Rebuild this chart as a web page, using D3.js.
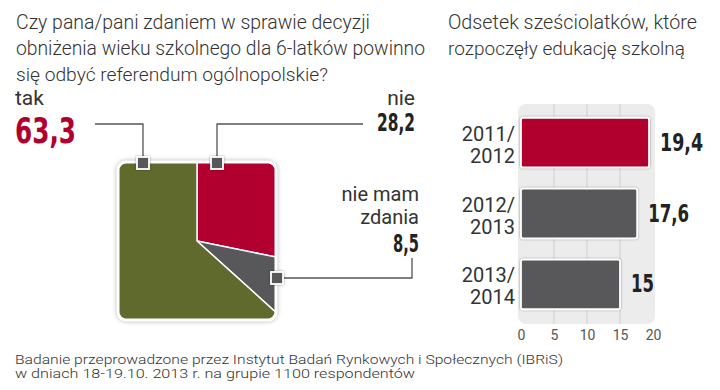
<!DOCTYPE html>
<html><head><meta charset="utf-8">
<script src="https://cdn.jsdelivr.net/npm/d3@7"></script>
<style>
body{margin:0;background:#fff;}
svg{display:block;}
.t{font-family:Roboto,"Open Sans",sans-serif;font-weight:300;fill:#333;}
.b{font-family:"DejaVu Sans Condensed","Liberation Sans Narrow",sans-serif;font-weight:bold;font-stretch:condensed;}
</style></head><body>
<script>
// ---- data ----
const pieCategories = ["nie", "nie mam zdania", "tak"];
const pieValues = [28.2, 8.5, 63.3];
const pieLabels = ["28,2", "8,5", "63,3"];
const barCategories = [["2011/", "2012"], ["2012/", "2013"], ["2013/", "2014"]];
const barValues = [19.4, 17.6, 15];
const barLabels = ["19,4", "17,6", "15"];
const xTicks = [0, 5, 10, 15, 20];
const titleLeft = ["Czy pana/pani zdaniem w sprawie decyzji", "obniżenia wieku szkolnego dla 6-latków powinno", "się odbyć referendum ogólnopolskie?"];
const titleRight = ["Odsetek sześciolatków, które", "rozpoczęły edukację szkolną"];
const footer = ["Badanie przeprowadzone przez  Instytut Badań Rynkowych i Społecznych (IBRiS)", "w dniach 18-19.10. 2013 r. na grupie 1100 respondentów"];

const RED = "#b1002f", GRAY = "#58585a", OLIVE = "#5f6a2c";
const pieColors = [RED, GRAY, OLIVE];

const W = 720, H = 390;
const svg = d3.select("body").append("svg").attr("width", W).attr("height", H);
const defs = svg.append("defs");
const sh = defs.append("filter").attr("id", "sh").attr("x", "-20%").attr("y", "-20%").attr("width", "140%").attr("height", "140%");
sh.append("feDropShadow").attr("dx", 0).attr("dy", 0).attr("stdDeviation", 2.5).attr("flood-color", "#000").attr("flood-opacity", 0.35);
const sh2 = defs.append("filter").attr("id", "sh2").attr("x", "-50%").attr("y", "-50%").attr("width", "200%").attr("height", "200%");
sh2.append("feDropShadow").attr("dx", 0).attr("dy", 0).attr("stdDeviation", 1.2).attr("flood-color", "#000").attr("flood-opacity", 0.4);

// fit a text to a target width: font size first, then textLength for the remainder
function fit(sel, target, base, maxSize) {
  const w = sel.node().getComputedTextLength();
  const fs = Math.min(maxSize, base * target / w);
  sel.attr("font-size", fs).attr("textLength", target).attr("lengthAdjust", "spacingAndGlyphs");
}

// ---- titles ----
titleLeft.forEach((s, i) => {
  const t = svg.append("text").attr("class", "t").attr("x", 16).attr("y", 29 + i * 26)
    .attr("font-size", 22).text(s);
  fit(t, [354, 409, 312][i], 22, 21.5);
});
titleRight.forEach((s, i) => {
  const t = svg.append("text").attr("class", "t").attr("x", 448).attr("y", 29 + i * 26)
    .attr("font-size", 22).text(s);
  fit(t, [249, 237][i], 22, 21.5);
});
footer.forEach((s, i) => {
  const t = svg.append("text").attr("class", "t").attr("x", 15).attr("y", 364 + i * 14)
    .attr("font-size", 14).attr("fill", "#444").style("font-weight", 300).text(s);
  fit(t, [548, 400][i], 14, 13);
});

// ---- square pie ----
const sq = {x: 118, y: 162, s: 158, r: 8};
const cx = sq.x + sq.s / 2, cy = sq.y + sq.s / 2;
defs.append("clipPath").attr("id", "sqclip").append("rect")
  .attr("x", sq.x).attr("y", sq.y).attr("width", sq.s).attr("height", sq.s).attr("rx", sq.r);
svg.append("rect").attr("x", sq.x - 1).attr("y", sq.y - 1).attr("width", sq.s + 2).attr("height", sq.s + 2)
  .attr("rx", sq.r + 1).attr("fill", "#fff").attr("filter", "url(#sh)");
const pie = d3.pie().sort(null).value(d => d)(pieValues);
const arc = d3.arc().innerRadius(0).outerRadius(sq.s);
svg.append("g").attr("clip-path", "url(#sqclip)")
  .append("g").attr("transform", `translate(${cx},${cy})`)
  .selectAll("path").data(pie).join("path")
  .attr("d", arc).attr("fill", (d, i) => pieColors[i]).attr("stroke", "#fff").attr("stroke-width", 1.5);
svg.append("rect").attr("x", sq.x).attr("y", sq.y).attr("width", sq.s).attr("height", sq.s)
  .attr("rx", sq.r).attr("fill", "none").attr("stroke", "#fff").attr("stroke-width", 3);

// leader lines
const lc = "#555";
const leaders = [
  [[95, 124], [143, 124], [143, 163]],
  [[363, 124], [217, 124], [217, 163]],
  [[412, 258], [412, 278], [277, 278]]
];
leaders.forEach(pts => {
  svg.append("path").attr("d", d3.line()(pts)).attr("fill", "none").attr("stroke", lc).attr("stroke-width", 1.3);
});
[[143, 163], [217, 163], [277, 278]].forEach(p => {
  svg.append("rect").attr("x", p[0] - 6).attr("y", p[1] - 6).attr("width", 12).attr("height", 12)
    .attr("fill", GRAY).attr("stroke", "#fff").attr("stroke-width", 1.8).attr("filter", "url(#sh2)");
});

// pie labels
function lbl(x, y, s, size, anchor) {
  return svg.append("text").attr("class", "t").attr("x", x).attr("y", y).attr("text-anchor", anchor)
    .attr("font-size", size).style("font-weight", 400).attr("fill", "#222").text(s);
}
function num(x, y, s, size, w, anchor, col) {
  return svg.append("text").attr("class", "b").attr("x", x).attr("y", y).attr("text-anchor", anchor)
    .attr("font-size", size).attr("fill", col).attr("textLength", w).attr("lengthAdjust", "spacingAndGlyphs").text(s);
}
lbl(15, 105, "tak", 21, "start");
num(15, 143, pieLabels[2], 36, 61, "start", RED);
lbl(415, 105, "nie", 21, "end");
num(415, 131, pieLabels[0], 25, 38, "end", "#222");
lbl(419, 201, "nie mam", 20, "end");
lbl(419, 224, "zdania", 20, "end");
num(419, 252, pieLabels[1], 25, 26, "end", "#222");

// ---- bar chart ----
const x = d3.scaleLinear().domain([0, 20]).range([521, 653]);
const y = d3.scaleBand().domain(d3.range(barValues.length)).range([105, 322]).paddingInner(0.3).paddingOuter(0.18);
svg.append("rect").attr("x", 518).attr("y", 104).attr("width", 137).attr("height", 220).attr("rx", 8).attr("fill", "#ececec");
svg.append("g").selectAll("line").data(xTicks.slice(1, 4)).join("line")
  .attr("x1", d => x(d)).attr("x2", d => x(d)).attr("y1", 104).attr("y2", 324)
  .attr("stroke", "#cfcfcf").attr("stroke-width", 1);
svg.append("g").selectAll("rect").data(barValues).join("rect")
  .attr("x", x(0)).attr("y", (d, i) => y(i)).attr("width", d => x(d) - x(0)).attr("height", y.bandwidth())
  .attr("rx", 2).attr("fill", (d, i) => i === 0 ? RED : GRAY).attr("stroke", "#fff").attr("stroke-width", 1.8)
  .attr("filter", "url(#sh2)");
const valW = [43, 41, 23];
barValues.forEach((v, i) => {
  const c = y(i) + y.bandwidth() / 2;
  barCategories[i].forEach((s, j) => {
    svg.append("text").attr("class", "t").attr("x", 515).attr("y", c - 2 + j * 22).attr("text-anchor", "end")
      .attr("font-size", 20).style("font-weight", 400).attr("fill", "#222").text(s);
  });
  num(x(v) + 11, c + 8, barLabels[i], 25, valW[i], "start", "#222");
});
const ax = svg.append("g").attr("transform", "translate(0,326)")
  .call(d3.axisBottom(x).tickValues(xTicks).tickSize(0).tickPadding(4));
ax.select(".domain").remove();
ax.selectAll("text").attr("font-family", "Roboto, sans-serif").attr("font-size", 14).attr("fill", "#555");
</script>
</body></html>
